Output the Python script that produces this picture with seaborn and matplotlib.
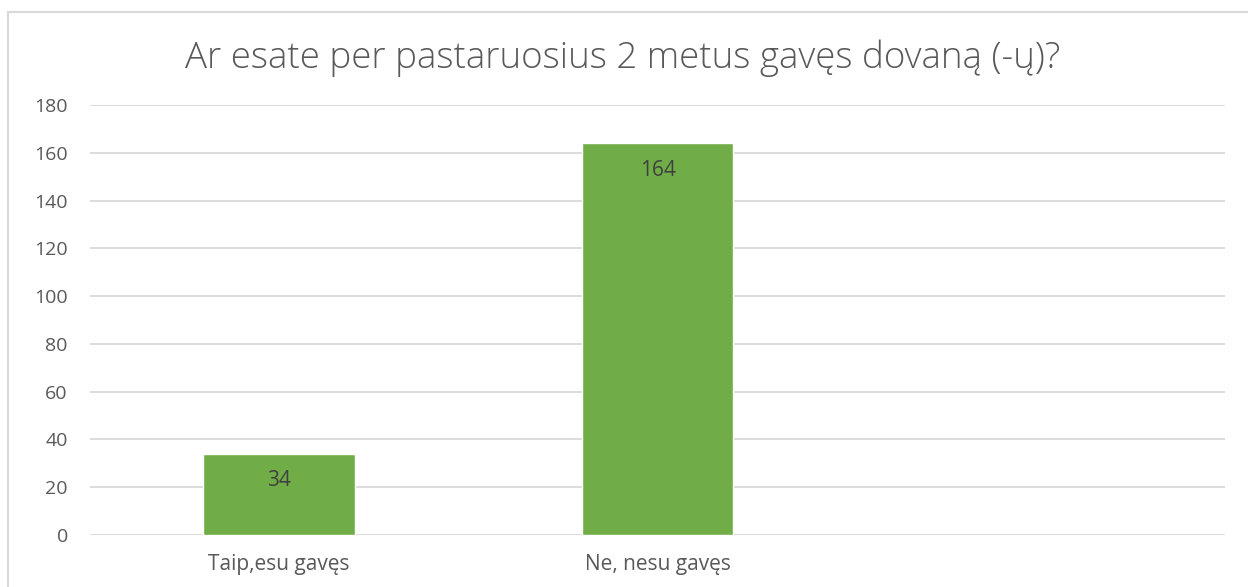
import numpy as np
import pandas as pd
import matplotlib
matplotlib.use("Agg")
import matplotlib.pyplot as plt
import seaborn as sns
from matplotlib.patches import Rectangle

# data
categories = ["Taip,esu gavęs", "Ne, nesu gavęs"]
counts = [34, 164]
slots = categories + [" "]   # third empty category slot, as in the original
title = "Ar esate per pastaruosius 2 metus gavęs dovaną (-ų)?"
yticks = [0, 20, 40, 60, 80, 100, 120, 140, 160, 180]

sns.set_theme(style="white")
plt.rcParams['font.family'] = ['Open Sans', 'DejaVu Sans']

text_color = "#595959"
grid_color = "#D9D9D9"
bar_color = "#70AD47"

df = pd.DataFrame({"Atsakymas": categories, "Kiekis": counts})

fig = plt.figure(figsize=(12.48, 5.87), dpi=100)
# light chart border (left and top visible)
fig.patches.append(Rectangle((8 / 1248, -0.1), 1.2, (1 - 12 / 587) + 0.1,
                             transform=fig.transFigure, fill=False,
                             edgecolor="#D9D9D9", linewidth=1.5))

ax = fig.add_axes([90 / 1248, 1 - 535 / 587, 1135 / 1248, 430 / 587])
sns.barplot(data=df, x="Atsakymas", y="Kiekis", order=slots, color=bar_color,
            saturation=1, width=0.4, ax=ax)

ax.set_ylim(0, 180)
ax.set_xlim(-0.5, 2.5)
ax.set_yticks(yticks)
ax.yaxis.grid(True, color=grid_color, linewidth=1.3)
ax.set_axisbelow(True)
for s in ax.spines.values():
    s.set_visible(False)
ax.tick_params(axis="y", length=0, pad=16, labelsize=14, labelcolor=text_color)
ax.tick_params(axis="x", length=0, pad=14, labelsize=15, labelcolor=text_color)
ax.set_xlabel("")
ax.set_ylabel("")

for i, v in enumerate(counts):
    ax.annotate(str(v), (i, v), xytext=(0, -27), textcoords="offset pixels",
                ha="center", va="center", fontsize=15, color="#404040")

fig.text(623 / 1248, 1 - 58 / 587, title, ha="center", va="center",
         fontsize=26.5, color=text_color, fontweight="light")

fig.savefig("out.png", dpi=100, facecolor="white")
